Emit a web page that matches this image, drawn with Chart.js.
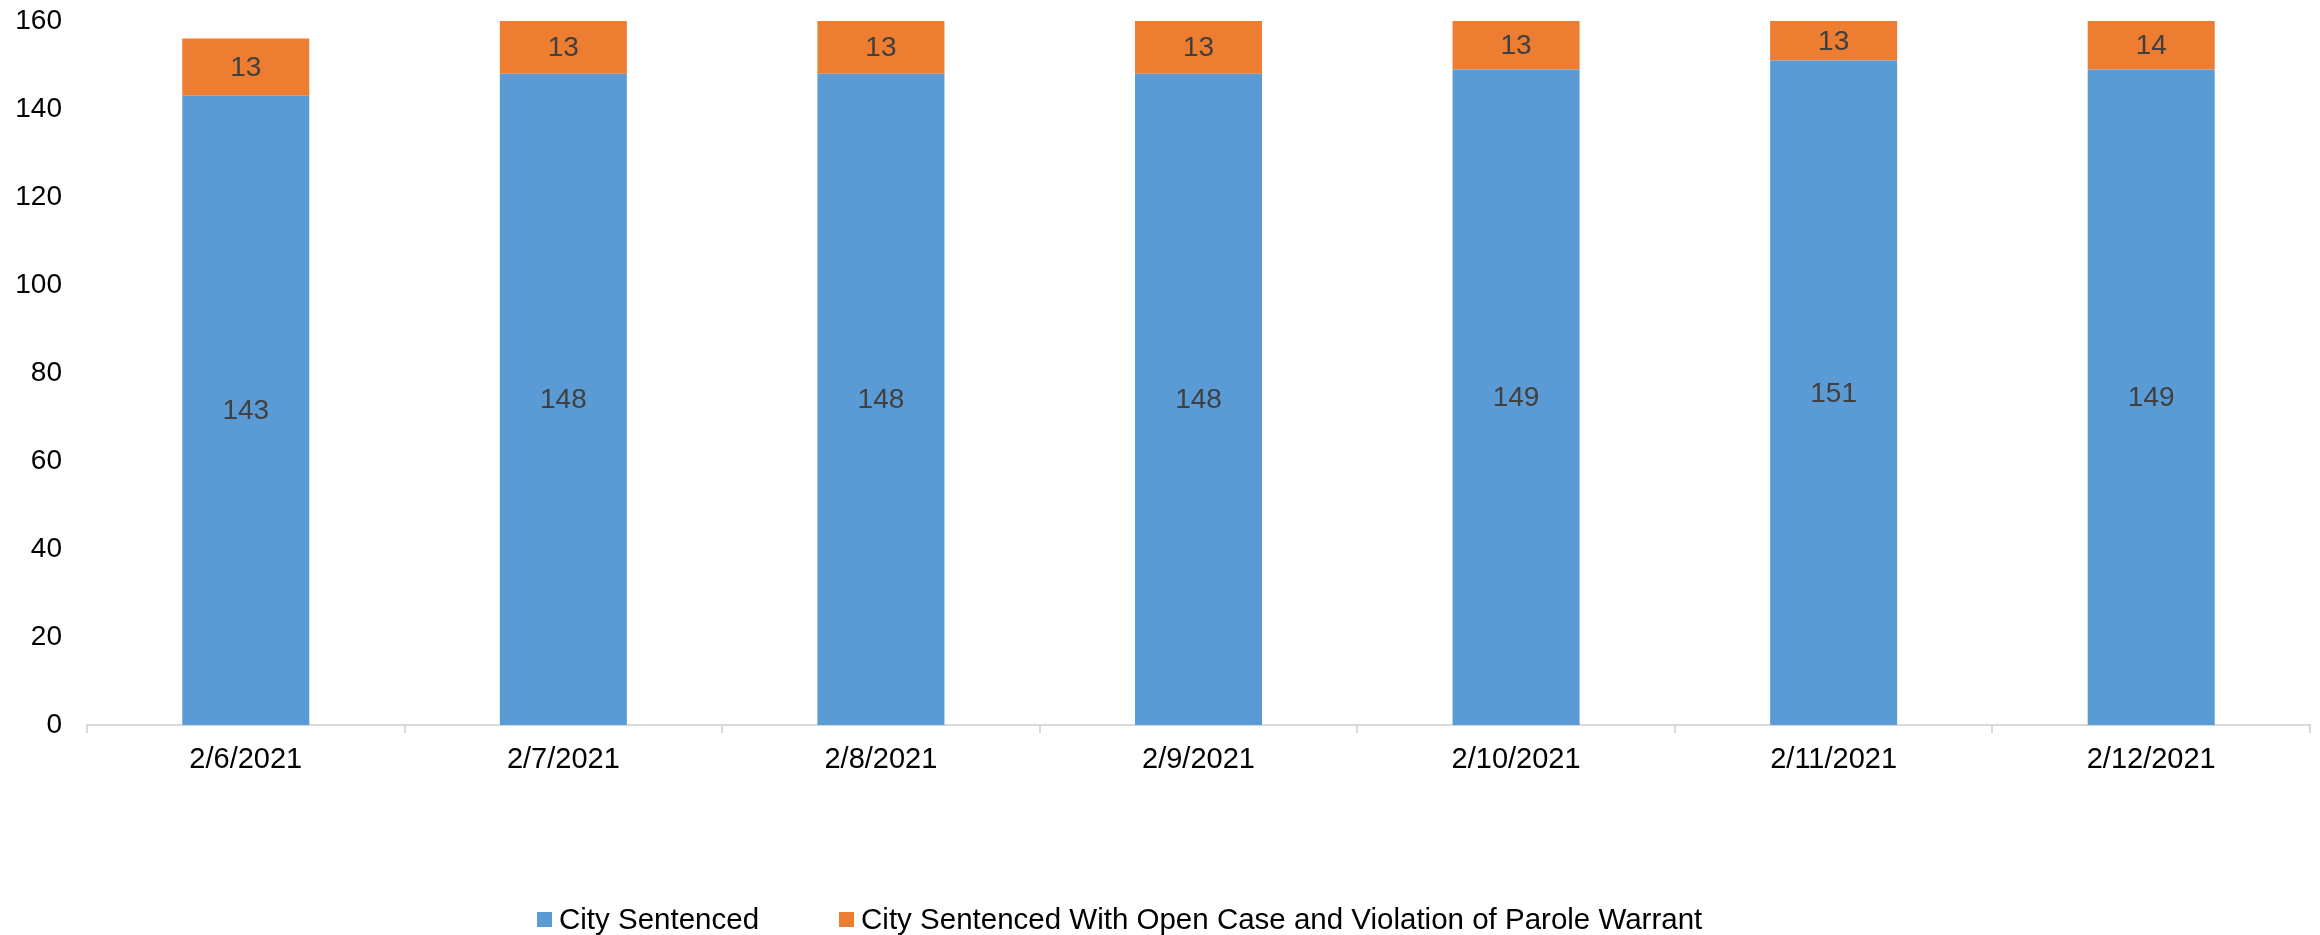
<!DOCTYPE html>
<html>
<head>
<meta charset="utf-8">
<script src="https://cdn.jsdelivr.net/npm/chart.js@4"></script>
<style>
  html, body { margin: 0; padding: 0; background: #fff; }
  #wrap { width: 2320px; height: 935px; position: relative; }
  #legend {
    position: absolute; left: 537px; top: 902px;
    display: flex; align-items: center;
    font: 29.5px 'Liberation Sans', Arial, sans-serif; color: #000; line-height: 34px;
  }
  .leg-item { display: flex; align-items: center; margin-right: 80px; }
  .leg-box { width: 15px; height: 15px; margin-right: 7px; }
</style>
</head>
<body>
<div id="wrap"><canvas id="chart"></canvas><div id="legend"></div></div>
<script>
/* Daily census — city sentenced, stacked */

const dates = ['2/6/2021', '2/7/2021', '2/8/2021', '2/9/2021', '2/10/2021', '2/11/2021', '2/12/2021'];
const citySentenced = [143, 148, 148, 148, 149, 151, 149];
const withOpenCase = [13, 13, 13, 13, 13, 13, 14];
const yTicks = [0, 20, 40, 60, 80, 100, 120, 140, 160];

const FONT = 'Liberation Sans, Arial, sans-serif';

// value labels in the middle of the visible part of each segment
const barLabels = {
  id: 'barLabels',
  afterDatasetsDraw(chart) {
    const { ctx, chartArea } = chart;
    ctx.save();
    ctx.font = '28px ' + FONT;
    ctx.fillStyle = '#404040';
    ctx.textAlign = 'center';
    ctx.textBaseline = 'middle';
    chart.data.datasets.forEach((ds, di) => {
      const meta = chart.getDatasetMeta(di);
      meta.data.forEach((bar, i) => {
        const top = Math.max(bar.y, chartArea.top);
        const bottom = Math.min(bar.base, chartArea.bottom);
        ctx.fillText(String(ds.data[i]), bar.x, (top + bottom) / 2 + 1);
      });
    });
    ctx.restore();
  }
};

const chart = new Chart(document.getElementById('chart'), {
  type: 'bar',
  data: {
    labels: dates,
    datasets: [
      {
        label: 'City Sentenced',
        data: citySentenced,
        backgroundColor: '#5B9BD5',
        borderWidth: 0,
        categoryPercentage: 1,
        barPercentage: 0.4
      },
      {
        label: 'City Sentenced With Open Case and Violation of Parole Warrant',
        data: withOpenCase,
        backgroundColor: '#ED7D31',
        borderWidth: 0,
        categoryPercentage: 1,
        barPercentage: 0.4
      }
    ]
  },
  options: {
    responsive: true,
    maintainAspectRatio: false,
    animation: false,
    layout: { padding: { left: 15, right: 10, top: 21, bottom: 150 } },
    plugins: {
      tooltip: { enabled: false },
      legend: { display: false }
    },
    scales: {
      x: {
        stacked: true,
        grid: { drawOnChartArea: false, drawTicks: true, tickLength: 8, color: '#d9d9d9', lineWidth: 2 },
        border: { display: true, color: '#d9d9d9', width: 2 },
        ticks: { color: '#000', font: { size: 29, family: FONT }, padding: 10, maxRotation: 0 },
        afterFit(scale) {
          scale.height = 60;
          scale.paddingLeft = 0;
          scale.paddingRight = 0;
        }
      },
      y: {
        stacked: true,
        min: 0,
        max: 160,
        grid: { display: false, drawTicks: false },
        border: { display: false },
        afterBuildTicks(scale) { scale.ticks = yTicks.map(v => ({ value: v })); },
        ticks: { color: '#000', font: { size: 28, family: FONT }, padding: 25 },
        afterFit(scale) {
          // only half a label of room above/below, not the tick padding too
          scale.width = 72;
          scale.paddingTop = 17;
          scale.paddingBottom = 17;
        }
      }
    }
  },
  plugins: [barLabels]
});

// legend below the plot, built from the datasets
document.getElementById('legend').innerHTML = chart.data.datasets.map(ds =>
  `<div class="leg-item"><div class="leg-box" style="background:${ds.backgroundColor}"></div>${ds.label}</div>`
).join('');
</script>
</body>
</html>
